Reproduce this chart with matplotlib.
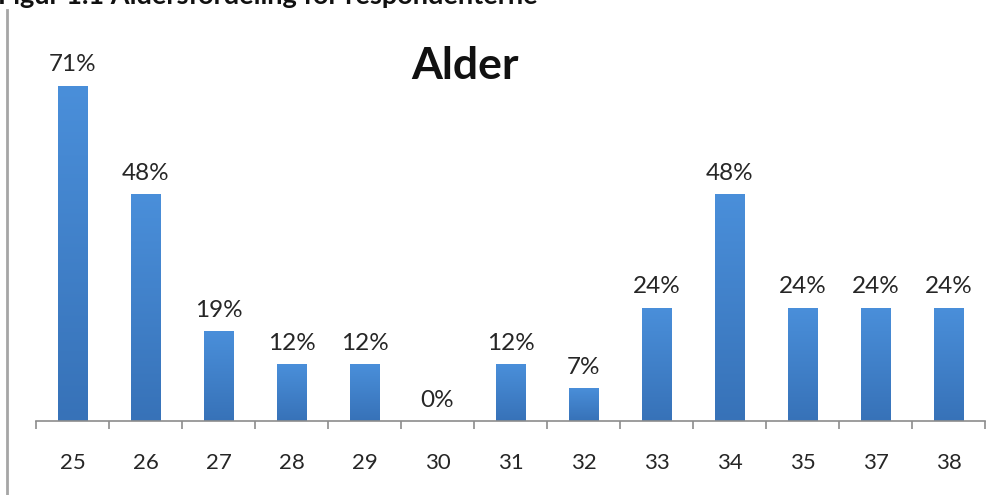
import matplotlib
matplotlib.use("Agg")
import numpy as np
import matplotlib.pyplot as plt
from matplotlib.lines import Line2D
from matplotlib.colors import LinearSegmentedColormap

# Age distribution of respondents (share in %)
ages = ["25", "26", "27", "28", "29", "30", "31", "32", "33", "34", "35", "37", "38"]
shares = [71, 48, 19, 12, 12, 0, 12, 7, 24, 48, 24, 24, 24]

TEXT_COLOR = "#262626"
AXIS_COLOR = "#8C8C8C"
bar_cmap = LinearSegmentedColormap.from_list("bar", ["#3772B8", "#4A8FDA"])

plt.rcParams["font.family"] = ["Lato", "DejaVu Sans"]

fig = plt.figure(figsize=(9.99, 4.95), dpi=100)
ax = fig.add_axes([36 / 999, 1 - 421 / 495, 949 / 999, (421 - 43.4) / 495])

x = np.arange(len(ages))
bars = ax.bar(x, shares, width=0.40, color="none", zorder=2)

# vertical shading inside each bar: lighter at the top, darker at the base
grad = np.linspace(0, 1, 256).reshape(-1, 1)
for b in bars:
    if b.get_height() <= 0:
        continue
    x0, w, h = b.get_x(), b.get_width(), b.get_height()
    im = ax.imshow(grad, cmap=bar_cmap, aspect="auto", origin="lower",
                   extent=(x0, x0 + w, 0, h), zorder=2)
    im.set_clip_path(b)

for xi, v in zip(x, shares):
    ax.text(xi, v + 2.2, f"{v}%", ha="center", va="bottom",
            fontsize=17.5, color=TEXT_COLOR)

ax.set_xlim(-0.5, len(ages) - 0.5)
ax.set_ylim(0, 80)

# category labels centred, ticks on category boundaries
ax.set_xticks(x)
ax.set_xticklabels(ages, fontsize=16, color=TEXT_COLOR)
ax.tick_params(axis="x", which="major", length=0, pad=23)
ax.set_xticks(np.arange(len(ages) + 1) - 0.5, minor=True)
ax.tick_params(axis="x", which="minor", length=6, width=1.2,
               color=AXIS_COLOR, direction="out")
ax.set_yticks([])

for side in ("left", "right", "top"):
    ax.spines[side].set_visible(False)
ax.spines["bottom"].set_color(AXIS_COLOR)
ax.spines["bottom"].set_linewidth(1.2)

fig.text(465 / 999, 1 - 66 / 495, "Alder", ha="center", va="center",
         fontsize=32, fontweight="bold", color="#111111")

# caption line above the chart, partly cut by the page edge
fig.text(-0.002, 1 - 4 / 495, "Figur 1.1 Aldersfordeling for respondenterne",
         ha="left", va="baseline", fontsize=19.5, fontweight="bold",
         color="#111111")

# page border on the left
fig.add_artist(Line2D([7 / 999, 7 / 999], [0, 1 - 10 / 495],
                      transform=fig.transFigure, color="#A6A6A6", lw=2))

fig.savefig("out.png", dpi=100)
